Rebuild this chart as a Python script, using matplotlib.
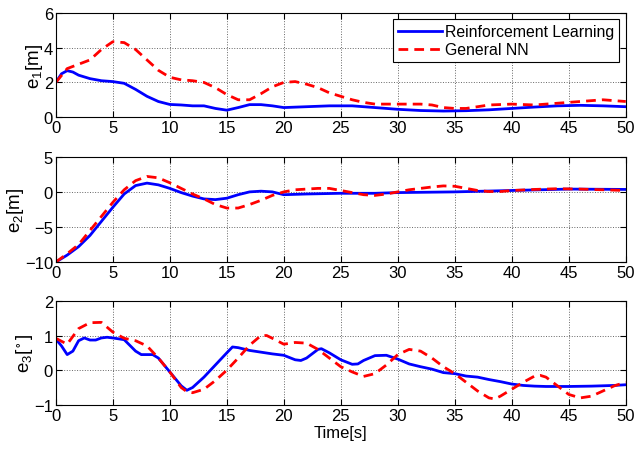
import numpy as np
import matplotlib.pyplot as plt

plt.rcParams['font.family'] = ['Liberation Sans', 'DejaVu Sans']
plt.rcParams['mathtext.fontset'] = 'custom'
plt.rcParams['mathtext.rm'] = 'Liberation Sans'
plt.rcParams['mathtext.it'] = 'Liberation Sans'

# ---------- data ----------
t1_rl = [0, 0.5, 1, 1.5, 2, 3, 4, 5, 6, 7, 8, 9, 10, 11, 12, 13, 14, 15, 16, 17, 18, 19, 20,
         22, 24, 26, 28, 30, 32, 34, 36, 38, 40, 42, 44, 46, 48, 50]
e1_rl = [2.0, 2.5, 2.68, 2.6, 2.42, 2.22, 2.1, 2.05, 1.95, 1.6, 1.2, 0.9, 0.73, 0.7, 0.65, 0.65,
         0.5, 0.4, 0.55, 0.72, 0.72, 0.65, 0.55, 0.6, 0.65, 0.65, 0.55, 0.45, 0.38, 0.35, 0.37,
         0.42, 0.5, 0.58, 0.65, 0.68, 0.65, 0.6]
t1_nn = [0, 1, 2, 3, 4, 5, 6, 7, 8, 9, 10, 11, 12, 13, 14, 15, 16, 17, 18, 19, 20, 21, 22, 23,
         24, 25, 26, 27, 28, 30, 32, 33, 34, 35, 36, 37, 38, 40, 42, 44, 46, 48, 50]
e1_nn = [2.0, 2.8, 3.05, 3.3, 3.9, 4.35, 4.3, 3.9, 3.3, 2.7, 2.3, 2.15, 2.1, 2.0, 1.7, 1.3,
         1.0, 1.0, 1.35, 1.75, 2.0, 2.05, 1.9, 1.7, 1.4, 1.2, 1.0, 0.85, 0.75, 0.75, 0.75, 0.7,
         0.55, 0.5, 0.5, 0.6, 0.7, 0.75, 0.7, 0.8, 0.9, 1.0, 0.9]

t2_rl = [0, 1, 2, 3, 4, 5, 6, 7, 8, 9, 10, 11, 12, 13, 14, 15, 16, 17, 18, 19, 20, 22, 25, 28,
         30, 35, 40, 45, 50]
e2_rl = [-10, -9, -7.8, -6.2, -4.2, -2.2, -0.3, 0.9, 1.25, 1.0, 0.5, -0.1, -0.6, -1.0, -1.1,
         -0.9, -0.4, 0.0, 0.1, 0.0, -0.4, -0.3, -0.2, -0.2, -0.1, 0.0, 0.2, 0.4, 0.35]
t2_nn = [0, 1, 2, 3, 4, 5, 6, 7, 8, 9, 10, 11, 12, 13, 14, 15, 16, 17, 18, 19, 20, 21, 23, 24,
         25, 26, 27, 28, 29, 30, 31, 33, 34, 35, 36, 37, 38, 39, 40, 42, 44, 46, 48, 50]
e2_nn = [-10, -8.8, -7.5, -5.5, -3.5, -1.5, 0.3, 1.6, 2.2, 2.0, 1.3, 0.5, -0.3, -1.0, -1.8,
         -2.3, -2.3, -1.8, -1.2, -0.5, 0.0, 0.3, 0.5, 0.5, 0.2, -0.1, -0.4, -0.5, -0.3, 0.0,
         0.3, 0.7, 0.85, 0.8, 0.5, 0.2, 0.05, 0.05, 0.2, 0.35, 0.45, 0.4, 0.3, 0.2]

t3_rl = [0, 0.5, 1, 1.5, 2, 2.5, 3, 3.5, 4, 4.5, 5, 6, 7, 7.5, 8, 8.5, 9, 10, 11, 11.5, 12, 13,
         14, 15, 15.5, 16, 17, 18, 19, 20, 21, 21.5, 22, 23, 23.3, 24, 25, 26, 26.5, 27, 28, 29,
         30, 31, 32, 33, 34, 35, 36, 37, 38, 39, 40, 41, 42, 43, 45, 47, 49, 50]
e3_rl = [0.9, 0.7, 0.45, 0.55, 0.85, 0.93, 0.87, 0.87, 0.93, 0.95, 0.93, 0.88, 0.55, 0.45,
         0.45, 0.45, 0.35, -0.05, -0.45, -0.58, -0.5, -0.2, 0.15, 0.5, 0.67, 0.65, 0.57, 0.52,
         0.47, 0.43, 0.3, 0.28, 0.35, 0.6, 0.62, 0.5, 0.3, 0.17, 0.18, 0.28, 0.42, 0.43, 0.32,
         0.18, 0.1, 0.03, -0.07, -0.1, -0.17, -0.2, -0.27, -0.33, -0.4, -0.44, -0.46, -0.47,
         -0.47, -0.46, -0.44, -0.42]
t3_nn = [0, 1, 2, 3, 4, 5, 6, 7, 8, 9, 10, 11, 11.5, 12, 13, 14, 15, 16, 17, 18, 18.5, 19, 20,
         21, 22, 23, 24, 25, 26, 27, 28, 29, 30, 31, 32, 33, 34, 35, 36, 37, 38, 38.5, 39, 40,
         41, 42, 42.5, 43, 44, 45, 46, 47, 48, 49, 50]
e3_nn = [0.92, 0.75, 1.2, 1.37, 1.38, 1.1, 0.92, 0.85, 0.7, 0.35, -0.05, -0.5, -0.62, -0.65,
         -0.55, -0.3, 0.0, 0.35, 0.72, 1.0, 1.0, 0.92, 0.75, 0.8, 0.78, 0.6, 0.35, 0.1, -0.05,
         -0.18, -0.1, 0.15, 0.45, 0.6, 0.55, 0.35, 0.1, -0.1, -0.35, -0.6, -0.8, -0.83, -0.75,
         -0.55, -0.35, -0.17, -0.15, -0.2, -0.45, -0.7, -0.8, -0.75, -0.6, -0.45, -0.35]

panels = [
    (t1_rl, e1_rl, t1_nn, e1_nn, [0, 2, 4, 6], r'$\mathregular{e_1[m]}$'),
    (t2_rl, e2_rl, t2_nn, e2_nn, [-10, -5, 0, 5], r'$\mathregular{e_2[m]}$'),
    (t3_rl, e3_rl, t3_nn, e3_nn, [-1, 0, 1, 2], r'$\mathregular{e_3[^\circ]}$'),
]
xticks = list(range(0, 51, 5))

fig = plt.figure(figsize=(6.34, 4.56), dpi=100)
boxes = [(0.088, 0.741, 0.899, 0.228), (0.088, 0.423, 0.899, 0.231), (0.088, 0.110, 0.899, 0.228)]

for i, (tr, er, tn, en, yt, lab) in enumerate(panels):
    ax = fig.add_axes(boxes[i])
    ax.plot(tr, er, color=(0, 0, 1), lw=2, label='Reinforcement Learning')
    ax.plot(tn, en, color=(1, 0, 0), lw=2, ls=(0, (3.5, 2.2)), label='General NN')
    ax.set_xlim(0, 50); ax.set_ylim(yt[0], yt[-1])
    ax.set_xticks(xticks); ax.set_yticks(yt)
    ax.set_yticklabels([str(v).replace('-', '\u2212') for v in yt])
    ax.grid(True, ls=':', color='#666666', lw=0.7)
    ax.tick_params(direction='in', labelsize=12, length=4, top=True, right=True, pad=2)
    ax.set_ylabel(lab, fontsize=13.5, labelpad=-1)
    for s in ax.spines.values():
        s.set_linewidth(0.8)
    if i == 0:
        leg = ax.legend(loc='upper right', fontsize=11.4, fancybox=False, framealpha=1,
                        edgecolor='black', borderaxespad=0.4, handlelength=2.8,
                        handletextpad=0.2, borderpad=0.3, labelspacing=0.2)
        leg.get_frame().set_linewidth(0.8)
    if i == 2:
        ax.set_xlabel('Time[s]', fontsize=12, labelpad=2)

fig.savefig('out.png', dpi=100)
